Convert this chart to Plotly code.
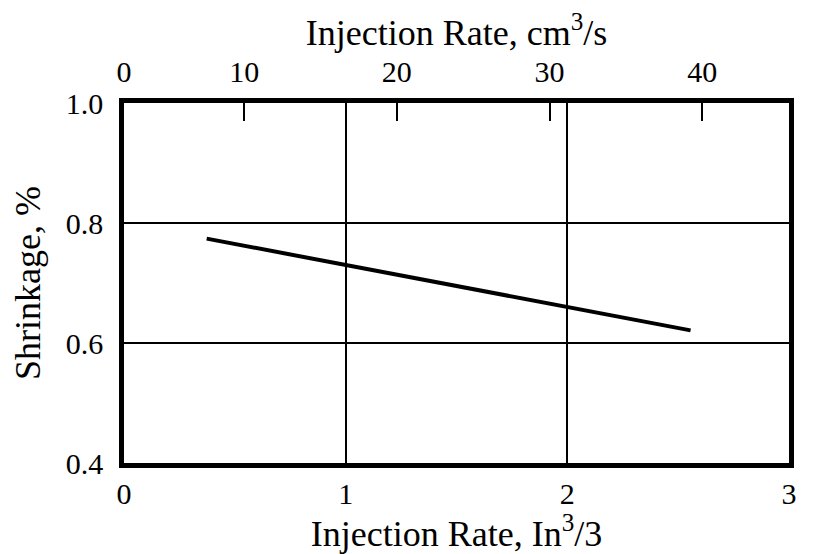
import plotly.graph_objects as go

# Data
rate_in3 = [0.373, 2.556]
shrinkage = [0.774, 0.621]

bottom_ticks = [0, 1, 2, 3]
y_ticks = [0.4, 0.6, 0.8, 1.0]
y_ticktext = ["0.4", "0.6", "0.8", "1.0"]
top_tickvals = [2.13, 10, 20, 30, 40]
top_ticktext = ["0", "10", "20", "30", "40"]

FONT = "Liberation Serif"
FS = 30
fig = go.Figure()
fig.add_trace(go.Scatter(x=rate_in3, y=shrinkage, mode="lines",
                         line=dict(color="black", width=4), showlegend=False,
                         hoverinfo="skip"))
fig.add_trace(go.Scatter(x=[None], y=[None], xaxis="x2", showlegend=False,
                         hoverinfo="skip"))

fig.update_layout(
    width=806, height=546,
    paper_bgcolor="white", plot_bgcolor="white",
    margin=dict(l=116, r=25, t=95, b=91),
    font=dict(family=FONT, size=FS, color="black"),
    xaxis=dict(range=[0, 3], tickvals=bottom_ticks, ticks="", showgrid=True,
               gridcolor="black", gridwidth=1.5, zeroline=False, automargin=False,
               showline=True, linecolor="black", linewidth=4.5, mirror=True,
               ticklabelstandoff=0,
               title=dict(text="Injection Rate, In<sup>3</sup>/3", standoff=11),
               tickfont=dict(size=FS)),
    xaxis2=dict(range=[2.13, 45.68], overlaying="x", side="top", anchor="y",
                tickvals=top_tickvals, ticktext=top_ticktext, automargin=False,
                ticks="inside", ticklen=18, tickwidth=1.5, tickcolor="black",
                showgrid=False, zeroline=False, showline=False,
                ticklabelstandoff=14,
                title=dict(text="Injection Rate, cm<sup>3</sup>/s", standoff=1),
                tickfont=dict(size=FS)),
    yaxis=dict(range=[0.4, 1.0], tickvals=y_ticks, ticktext=y_ticktext,
               ticks="", showgrid=True, gridcolor="black", gridwidth=1.5,
               zeroline=False, showline=True, linecolor="black", linewidth=4.5,
               mirror=True, ticklabelstandoff=10, automargin=False,
               title=dict(text="Shrinkage, %", standoff=16),
               tickfont=dict(size=FS)),
)

fig.write_html("out.html")
